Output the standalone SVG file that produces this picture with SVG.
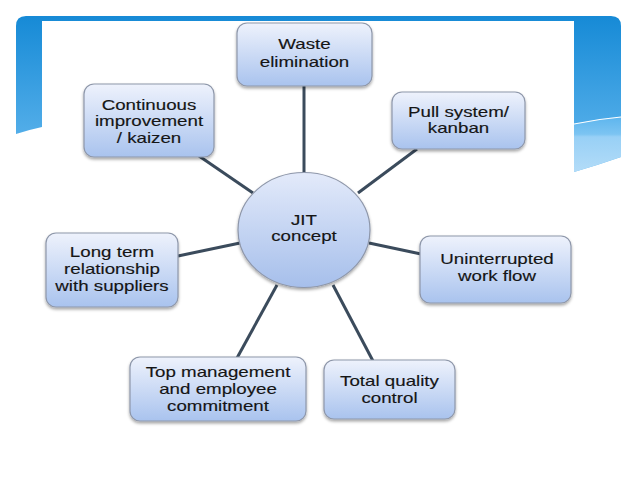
<svg xmlns="http://www.w3.org/2000/svg" width="638" height="479" viewBox="0 0 638 479">
<defs>
<linearGradient id="frame" gradientUnits="userSpaceOnUse" x1="0" y1="16" x2="0" y2="172">
<stop offset="0" stop-color="#168ad6"/>
<stop offset="1" stop-color="#66b9ef"/>
</linearGradient>
<linearGradient id="frameLow" gradientUnits="userSpaceOnUse" x1="0" y1="118" x2="0" y2="172">
<stop offset="0" stop-color="#5fb6ee"/>
<stop offset="0.3" stop-color="#7cc4f2"/>
<stop offset="0.35" stop-color="#98d0f6"/>
<stop offset="1" stop-color="#b3dcf8"/>
</linearGradient>
<linearGradient id="box" x1="0" y1="0" x2="0" y2="1">
<stop offset="0" stop-color="#eef2fc"/>
<stop offset="1" stop-color="#a9c3ee"/>
</linearGradient>
<linearGradient id="circ" x1="0" y1="0" x2="0" y2="1">
<stop offset="0" stop-color="#e3eafa"/>
<stop offset="1" stop-color="#a6bfeb"/>
</linearGradient>
<filter id="sh" x="-10%" y="-10%" width="120%" height="130%">
<feDropShadow dx="0" dy="2" stdDeviation="1.5" flood-color="#000" flood-opacity="0.35"/>
</filter>
</defs>
<style>
.box{fill:url(#box);stroke:#8e97aa;stroke-width:1.2;filter:url(#sh)}
.circ{fill:url(#circ);stroke:#8e97aa;stroke-width:1.2;filter:url(#sh)}
.lbl{font-family:"Liberation Sans",Arial,sans-serif;font-size:14.3px;fill:#151515;stroke:#151515;stroke-width:0.15;text-anchor:middle}
.conn line{stroke:#3b4b5c;stroke-width:3;stroke-linecap:butt}
</style>
<rect width="638" height="479" fill="#ffffff"/>
<g id="frame-bg">
<path d="M16,134 L16,26 Q16,16 26,16 L611,16 Q621,16 621,26 L621,157 Q598,165 574,172 L574,21 L42,21 L42,127 Q28,130 16,134 Z" fill="url(#frame)"/>
<path d="M574,124 Q598,119 621,117 L621,157 Q598,165 574,172 Z" fill="url(#frameLow)"/>
<path d="M574,124 Q598,119 621,117" fill="none" stroke="#ffffff" stroke-width="1.2"/>
</g>
<g id="connectors" class="conn">
<line x1="304" y1="86" x2="304" y2="174"/>
<line x1="199" y1="156" x2="253" y2="193"/>
<line x1="417" y1="149" x2="358" y2="193"/>
<line x1="178" y1="256" x2="240" y2="243"/>
<line x1="369" y1="243" x2="421" y2="254"/>
<line x1="237" y1="358" x2="277" y2="285"/>
<line x1="373" y1="361" x2="333" y2="285"/>
</g>
<g id="node-waste">
<rect class="box" x="237" y="23" width="135" height="63" rx="10"/>
<text class="lbl" transform="translate(304.5,0) scale(1.31,1)"><tspan x="0" y="49.5">Waste</tspan><tspan x="0" y="67">elimination</tspan></text>
</g>
<g id="node-kaizen">
<rect class="box" x="84" y="84" width="130" height="73" rx="10"/>
<text class="lbl" transform="translate(149,0) scale(1.31,1)"><tspan x="0" y="110">Continuous</tspan><tspan x="0" y="126.5">improvement</tspan><tspan x="0" y="143">/ kaizen</tspan></text>
</g>
<g id="node-pull">
<rect class="box" x="392" y="92" width="133" height="57" rx="10"/>
<text class="lbl" transform="translate(458.5,0) scale(1.31,1)"><tspan x="0" y="117">Pull system/</tspan><tspan x="0" y="133.5">kanban</tspan></text>
</g>
<g id="node-jit">
<ellipse class="circ" cx="304" cy="230" rx="66" ry="57.5"/>
<text class="lbl" transform="translate(304,0) scale(1.31,1)"><tspan x="0" y="225">JIT</tspan><tspan x="0" y="241.5">concept</tspan></text>
</g>
<g id="node-suppliers">
<rect class="box" x="46" y="233" width="132" height="74" rx="10"/>
<text class="lbl" transform="translate(112,0) scale(1.31,1)"><tspan x="0" y="257.5">Long term</tspan><tspan x="0" y="274.2">relationship</tspan><tspan x="0" y="291">with suppliers</tspan></text>
</g>
<g id="node-flow">
<rect class="box" x="420" y="236" width="151" height="67" rx="10"/>
<text class="lbl" transform="translate(497,0) scale(1.31,1)"><tspan x="0" y="264.5">Uninterrupted</tspan><tspan x="0" y="281.2">work flow</tspan></text>
</g>
<g id="node-management">
<rect class="box" x="130" y="357" width="176" height="64" rx="10"/>
<text class="lbl" transform="translate(218,0) scale(1.31,1)"><tspan x="0" y="377.3">Top management</tspan><tspan x="0" y="394">and employee</tspan><tspan x="0" y="410.7">commitment</tspan></text>
</g>
<g id="node-quality">
<rect class="box" x="324" y="360" width="131" height="59" rx="10"/>
<text class="lbl" transform="translate(389.5,0) scale(1.31,1)"><tspan x="0" y="386">Total quality</tspan><tspan x="0" y="402.7">control</tspan></text>
</g>
</svg>
